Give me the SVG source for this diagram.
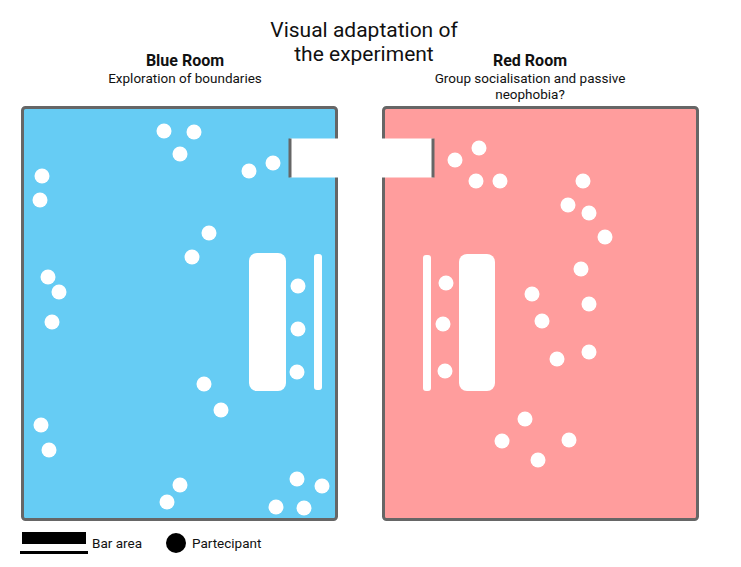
<svg xmlns="http://www.w3.org/2000/svg" width="741" height="567" viewBox="0 0 741 567">
<style>
text{font-family:Roboto,"Liberation Sans",sans-serif;fill:#111}
.title{font-size:21px;text-anchor:middle}
.room{font-size:16px;font-weight:bold;text-anchor:middle}
.sub{font-size:13.5px;text-anchor:middle}
.leg{font-size:13.5px}
.wall{stroke:#666;stroke-width:3}
.dot{fill:#fff}
.bar{fill:#fff}
</style>
<rect width="741" height="567" fill="#fff"/>
<g id="title">
<text class="title" x="364" y="37">Visual adaptation of</text>
<text class="title" x="364" y="61">the experiment</text>
</g>
<g id="blue-room">
<text class="room" x="185" y="66">Blue Room</text>
<text class="sub" x="185" y="83">Exploration of boundaries</text>
<rect class="wall" x="22.5" y="107.5" width="314" height="412" rx="3" fill="#66CCF4"/>
<rect class="bar" x="249" y="253" width="37" height="138" rx="8"/>
<rect class="bar" x="314" y="254" width="8" height="136" rx="3"/>
<g class="dot">
<circle cx="164" cy="131" r="7.5"/><circle cx="194" cy="132" r="7.5"/><circle cx="180" cy="154" r="7.5"/>
<circle cx="42" cy="176" r="7.5"/><circle cx="40" cy="200" r="7.5"/>
<circle cx="249" cy="171" r="7.5"/><circle cx="273" cy="163" r="7.5"/>
<circle cx="209" cy="233" r="7.5"/><circle cx="192" cy="257" r="7.5"/>
<circle cx="48" cy="277" r="7.5"/><circle cx="59" cy="292" r="7.5"/><circle cx="52" cy="322" r="7.5"/>
<circle cx="298" cy="286" r="7.5"/><circle cx="298" cy="329" r="7.5"/><circle cx="297" cy="372" r="7.5"/>
<circle cx="204" cy="384" r="7.5"/><circle cx="221" cy="410" r="7.5"/>
<circle cx="41" cy="425" r="7.5"/><circle cx="49" cy="450" r="7.5"/>
<circle cx="180" cy="485" r="7.5"/><circle cx="167" cy="502" r="7.5"/>
<circle cx="297" cy="479" r="7.5"/><circle cx="322" cy="486" r="7.5"/><circle cx="276" cy="507" r="7.5"/><circle cx="304" cy="508" r="7.5"/>
</g>
</g>
<g id="red-room">
<text class="room" x="530" y="66">Red Room</text>
<text class="sub" x="530" y="83">Group socialisation and passive</text>
<text class="sub" x="530" y="99">neophobia?</text>
<rect class="wall" x="383.5" y="107.5" width="314" height="412" rx="3" fill="#FF9D9D"/>
<rect class="bar" x="459" y="254" width="36" height="137" rx="8"/>
<rect class="bar" x="423" y="255" width="8" height="136" rx="3"/>
<g class="dot">
<circle cx="479" cy="148" r="7.5"/><circle cx="455" cy="160" r="7.5"/><circle cx="476" cy="181" r="7.5"/><circle cx="500" cy="181" r="7.5"/>
<circle cx="583" cy="181" r="7.5"/><circle cx="568" cy="205" r="7.5"/><circle cx="589" cy="213" r="7.5"/><circle cx="605" cy="237" r="7.5"/>
<circle cx="581" cy="269" r="7.5"/><circle cx="532" cy="294" r="7.5"/><circle cx="589" cy="304" r="7.5"/>
<circle cx="446" cy="283" r="7.5"/><circle cx="443" cy="324" r="7.5"/><circle cx="445" cy="371" r="7.5"/>
<circle cx="542" cy="321" r="7.5"/><circle cx="557" cy="359" r="7.5"/><circle cx="589" cy="352" r="7.5"/>
<circle cx="525" cy="419" r="7.5"/><circle cx="502" cy="441" r="7.5"/><circle cx="569" cy="440" r="7.5"/><circle cx="538" cy="460" r="7.5"/>
</g>
</g>
<g id="corridor">
<rect x="290" y="138.5" width="143.5" height="39" fill="#fff"/>
<line class="wall" x1="290" y1="138.5" x2="290" y2="177.5"/>
<line class="wall" x1="433" y1="138.5" x2="433" y2="177.5"/>
</g>
<g id="connectors"></g>
<g id="legend">
<rect x="22" y="532" width="64" height="12" fill="#000"/>
<rect x="20" y="551" width="68" height="3" fill="#000"/>
<text class="leg" x="92" y="548">Bar area</text>
<circle cx="176" cy="543" r="10" fill="#000"/>
<text class="leg" x="192" y="548">Partecipant</text>
</g>
</svg>
